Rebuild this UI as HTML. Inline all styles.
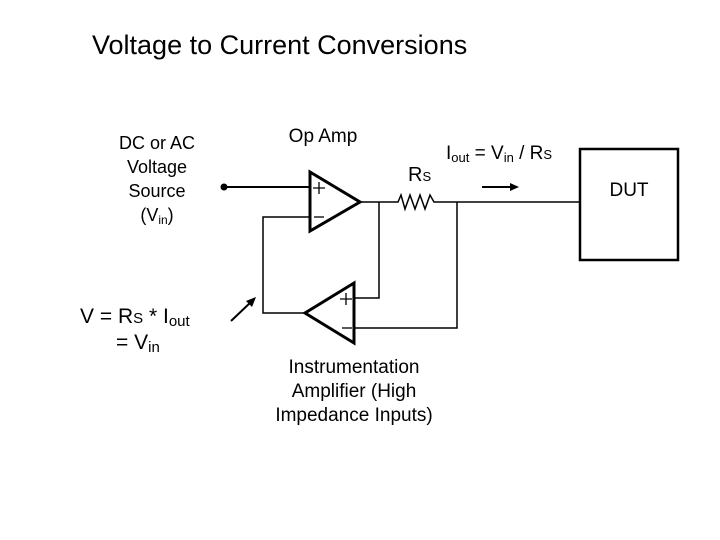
<!DOCTYPE html>
<html><head><meta charset="utf-8"><style>html,body{margin:0;padding:0;background:#fff}svg{display:block}</style></head>
<body>
<svg width="720" height="540" viewBox="0 0 720 540" xmlns="http://www.w3.org/2000/svg" font-family="Liberation Sans, Arial, sans-serif" fill="#000">
<text x="92" y="54" font-size="27">Voltage to Current Conversions</text>
<g font-size="18" text-anchor="middle">
<text x="157" y="149">DC or AC</text>
<text x="157" y="173">Voltage</text>
<text x="157" y="197">Source</text>
<text x="157" y="221">(V<tspan font-size="12" dy="3">in</tspan><tspan dy="-3">)</tspan></text>
</g>
<g font-size="19" text-anchor="middle">
<text x="323" y="142">Op Amp</text>
<text x="354" y="373">Instrumentation</text>
<text x="354" y="397">Amplifier (High</text>
<text x="354" y="421">Impedance Inputs)</text>
<text x="629" y="196">DUT</text>
</g>
<text x="408" y="181" font-size="20">R<tspan font-size="13">S</tspan></text>
<text x="446" y="159" font-size="19">I<tspan font-size="13" dy="3">out</tspan><tspan dy="-3"> = V</tspan><tspan font-size="13" dy="3">in</tspan><tspan dy="-3"> / R</tspan><tspan font-size="13">S</tspan></text>
<text x="80" y="323" font-size="21">V = R<tspan font-size="15">S</tspan> * I<tspan font-size="15" dy="3">out</tspan></text>
<text x="116" y="349" font-size="21">= V<tspan font-size="15" dy="3">in</tspan></text>
<g stroke="#000" fill="none">
<circle cx="224" cy="187" r="3" fill="#000"/>
<line x1="224" y1="187" x2="310" y2="187" stroke-width="2"/>
<polygon points="310,172 310,231 360,202" stroke-width="3"/>
<path d="M310 217 H263 V313 H305" stroke-width="1.5"/>
<polygon points="354,283 354,343 305,313" stroke-width="3"/>
<path d="M354 298 H379 V202" stroke-width="1.5"/>
<path d="M354 328 H457 V202" stroke-width="1.5"/>
<path d="M360 202 H398 L401 195 L405 209 L410 195 L415 209 L420 195 L425 209 L430 195 L434 202 H580" stroke-width="1.5"/>
<rect x="580" y="149" width="98" height="111" stroke-width="2.5"/>
<line x1="482" y1="187" x2="512" y2="187" stroke-width="2"/>
<line x1="231" y1="321" x2="251" y2="302" stroke-width="2"/>
<path d="M319 182 V194 M313 188 H325" stroke-width="1.3"/>
<path d="M314 217 H324" stroke-width="1.3"/>
<path d="M346 293 V305 M340 299 H352" stroke-width="1.3"/>
<path d="M342 328 H352" stroke-width="1.3"/>
</g>
<polygon points="519,187 510,183 510,191"/>
<polygon points="256,297 246,301 252,307"/>
</svg>
</body></html>
